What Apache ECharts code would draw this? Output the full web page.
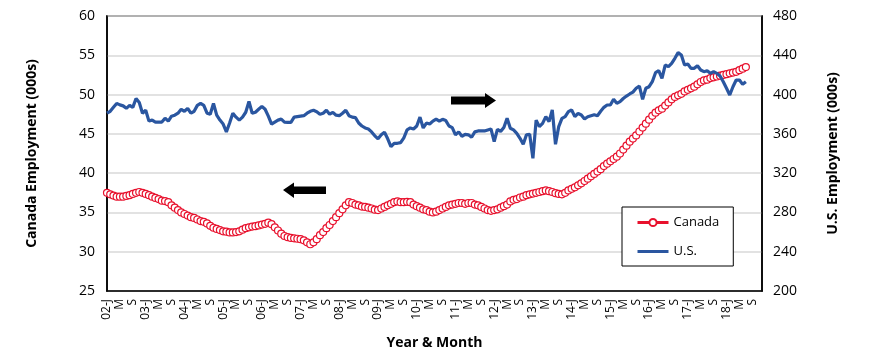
<!DOCTYPE html>
<html>
<head>
<meta charset="utf-8">
<script src="https://cdn.jsdelivr.net/npm/echarts@6/dist/echarts.min.js"></script>
<style>
html,body{margin:0;padding:0;background:#fff;}
#chart{width:870px;height:363px;}
</style>
</head>
<body>
<div id="chart"></div>
<script>
// ---- Data ----
const years = ['02','03','04','05','06','07','08','09','10','11','12','13','14','15','16','17','18'];
const monthLetters = ['J','F','M','A','M','J','J','A','S','O','N','D'];

// Canada employment (000s), monthly Jan 2002 - Jul 2018 (left axis)
const canada = [
  37.5,37.3,37.15,37.0,37.0,37.0,37.1,37.2,37.35,37.5,37.6,37.5,
  37.35,37.2,37.0,36.85,36.7,36.5,36.45,36.3,35.9,35.6,35.3,35.0,
  34.8,34.6,34.4,34.3,34.1,33.9,33.8,33.6,33.3,33.05,32.9,32.75,
  32.6,32.55,32.45,32.45,32.5,32.6,32.8,33.0,33.1,33.2,33.25,33.35,
  33.45,33.55,33.7,33.5,33.1,32.7,32.3,32.0,31.85,31.75,31.7,31.65,
  31.6,31.45,31.2,30.95,31.2,31.6,32.1,32.5,33.0,33.4,33.9,34.4,
  34.9,35.4,35.9,36.3,36.2,36.0,35.9,35.75,35.7,35.6,35.5,35.35,
  35.3,35.5,35.7,35.9,36.1,36.3,36.4,36.3,36.3,36.35,36.3,36.0,
  35.8,35.6,35.4,35.3,35.1,35.0,35.1,35.3,35.5,35.7,35.9,36.0,
  36.1,36.2,36.2,36.1,36.2,36.2,36.0,35.9,35.7,35.5,35.3,35.2,
  35.3,35.4,35.6,35.8,36.0,36.4,36.6,36.7,36.9,37.0,37.2,37.3,
  37.4,37.5,37.6,37.7,37.8,37.7,37.6,37.45,37.35,37.3,37.5,37.8,
  38.0,38.2,38.45,38.7,39.0,39.3,39.6,39.9,40.2,40.5,40.9,41.2,
  41.5,41.8,42.1,42.5,43.0,43.5,44.0,44.4,44.8,45.3,45.8,46.3,
  46.8,47.3,47.7,48.0,48.2,48.6,49.0,49.4,49.7,49.9,50.1,50.4,
  50.6,50.8,51.0,51.3,51.6,51.8,51.9,52.1,52.2,52.3,52.4,52.5,
  52.6,52.7,52.8,52.9,53.1,53.3,53.5
];

// U.S. employment (000s), monthly Jan 2002 - Jul 2018 (right axis)
const us = [
  381,383,387,391,389.5,388.5,386,389,387,396,392,381,
  384,373,374,372,372,372,376,373,378,379,381,385,
  383,386,381,383,389,391,389,381,380,391,379,374,
  370,362,371,381,377,374,377,382,393,381,382,385,
  388,385,378,370,372,374,375,372,371.7,371.7,377,377.5,
  378,378.5,381,383,384,382.6,380,381,384,380,381.9,379,
  378.5,381,384,378.5,377,376.5,371,368,366,365,362,358,
  355,359,361.6,355,347,350.4,350.4,351,356,364,366,365,
  368,377,366,371,370,373,375,373,374.8,373.5,368,366.4,
  359,362,357.5,359.5,359,356.5,362,363,363,363,364,365,
  352,364.5,362.5,366.4,375.8,365.7,364,360.6,355.5,349.4,359,359.6,
  335,374,367.4,370.7,377.5,372.4,384.3,349.4,367.4,375.8,377.5,382.6,
  384.3,377.5,380.9,379.2,375.1,377.5,378.5,379.5,378.5,383,387,389.4,
  389.4,395.2,391.1,392.8,396,398.5,400.6,402.5,406.4,408.7,395.2,406.4,
  408,413.1,422.3,424.3,416.5,430.1,428.4,431.8,436.9,442.7,440.3,430.1,
  431.1,426.7,426.7,429.4,425,423.3,424.3,421.6,423.3,421.6,418.9,413.1,
  406.4,399.6,408,414.8,414.8,410.4,413
];

// category labels (Jan 2002 - Dec 2018)
const categories = [];
years.forEach(y => monthLetters.forEach((m, k) => categories.push(k === 0 ? y + '-' + m : m)));

const FONT = 'Open Sans';
const RED = '#e8112d';
const BLUE = '#2a56a0';
const chart = echarts.init(document.getElementById('chart'));
chart.setOption({
  animation: false,
  backgroundColor: '#fff',
  textStyle: { fontFamily: FONT, color: '#000' },
  grid: { left: 107, right: 108, top: 16, bottom: 72, show: true, borderColor: '#000', borderWidth: 1.5, backgroundColor: 'transparent' },
  legend: {
    orient: 'vertical', left: 622, top: 207,
    data: ['Canada', 'U.S.'],
    backgroundColor: '#fff', borderColor: '#000', borderWidth: 1,
    padding: [9, 14, 8, 14], itemGap: 16, itemWidth: 31, itemHeight: 9,
    lineStyle: { width: 3 },
    textStyle: { fontFamily: FONT, fontSize: 13, color: '#000' }
  },
  xAxis: {
    type: 'category', data: categories, boundaryGap: false,
    axisLine: { lineStyle: { color: '#000', width: 1.5 } },
    axisTick: { show: false },
    axisLabel: { interval: 3, rotate: 90, fontSize: 12, color: '#000', margin: 8, fontFamily: FONT },
    name: 'Year & Month', nameLocation: 'middle', nameGap: 45,
    nameTextStyle: { fontSize: 14, fontWeight: 'bold', color: '#000', fontFamily: FONT }
  },
  yAxis: [
    {
      type: 'value', min: 25, max: 60, interval: 5,
      axisLine: { show: true, lineStyle: { color: '#000', width: 1.5 } },
      axisTick: { show: false },
      axisLabel: { fontSize: 14, color: '#000', margin: 12, fontFamily: FONT },
      splitLine: { lineStyle: { color: '#d9d9d9', width: 1.5 } },
      name: 'Canada Employment (000s)', nameLocation: 'middle', nameGap: 68, nameRotate: 90,
      nameTextStyle: { fontSize: 14, fontWeight: 'bold', color: '#000', fontFamily: FONT }
    },
    {
      type: 'value', min: 200, max: 480, interval: 40, position: 'right',
      axisLine: { show: true, lineStyle: { color: '#000', width: 1.5 } },
      axisTick: { show: false },
      axisLabel: { fontSize: 14, color: '#000', margin: 11, fontFamily: FONT },
      splitLine: { show: false },
      name: 'U.S. Employment (000s)', nameLocation: 'middle', nameGap: 64, nameRotate: 90,
      nameTextStyle: { fontSize: 14, fontWeight: 'bold', color: '#000', fontFamily: FONT }
    }
  ],
  series: [
    {
      name: 'Canada', type: 'line', yAxisIndex: 0, data: canada,
      symbol: 'circle', symbolSize: 7, showSymbol: true, showAllSymbol: true,
      lineStyle: { color: RED, width: 2.5 },
      itemStyle: { color: '#fff', borderColor: RED, borderWidth: 1.2 },
      z: 2
    },
    {
      name: 'U.S.', type: 'line', yAxisIndex: 1, data: us,
      symbol: 'circle', showSymbol: false,
      lineStyle: { color: BLUE, width: 3.2 },
      itemStyle: { color: 'rgba(0,0,0,0)', borderColor: 'rgba(0,0,0,0)', borderWidth: 0 },
      z: 3
    }
  ],
  graphic: [
    { type: 'polygon', z: 10, shape: { points: [[283,190],[294,182.5],[294,186.5],[326,186.5],[326,194],[294,194],[294,198]] }, style: { fill: '#000' } },
    { type: 'polygon', z: 10, shape: { points: [[496,100.5],[485,93],[485,96.5],[451,96.5],[451,104.5],[485,104.5],[485,108]] }, style: { fill: '#000' } }
  ]
});
</script>
</body>
</html>
